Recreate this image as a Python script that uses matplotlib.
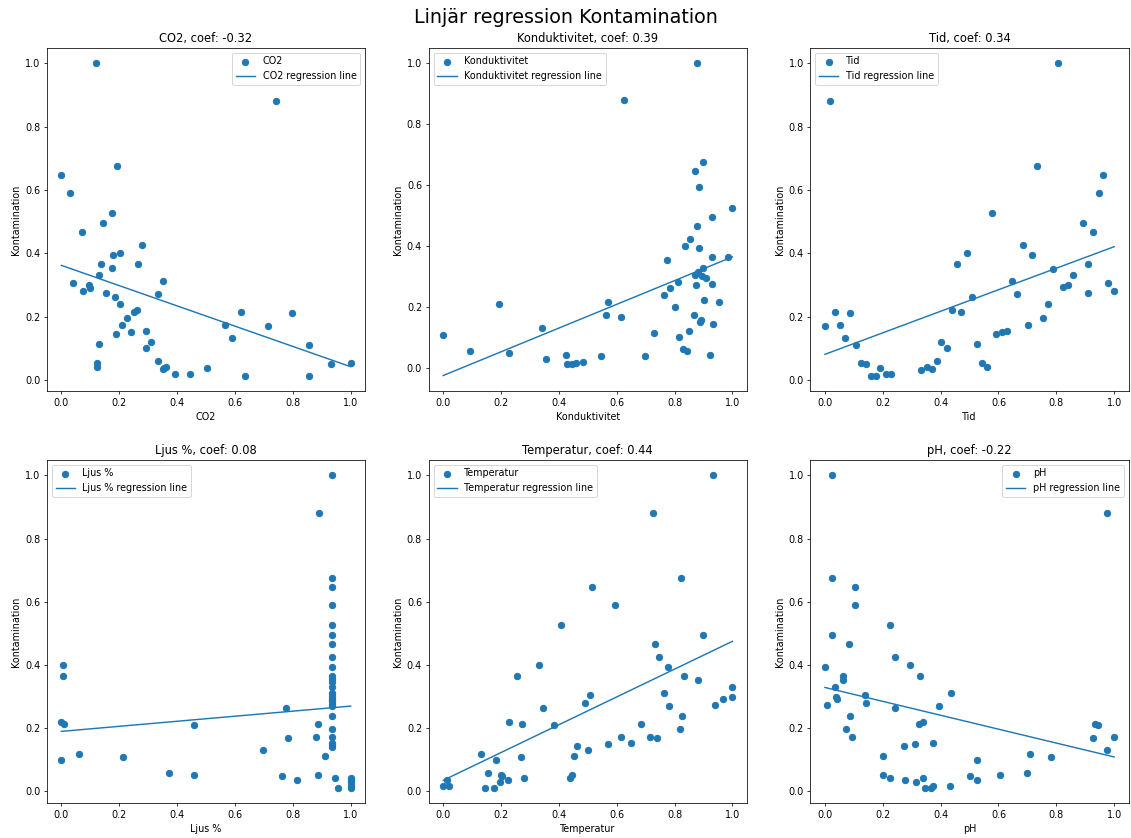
import numpy as np
import matplotlib
matplotlib.use("Agg")
import matplotlib.pyplot as plt

# feature names (x axis of each panel)
features = ["CO2", "Konduktivitet", "Tid", "Ljus %", "Temperatur", "pH"]

# regression line: intercept and coef
intercepts = [0.362, -0.026, 0.081, 0.190, 0.035, 0.329]
coefs = [-0.32, 0.39, 0.34, 0.08, 0.44, -0.22]

co2_x = [0.118, 0.741, 0.0, 0.031, 0.193, 0.072, 0.174, 0.144, 0.280, 0.178, 0.202, 0.137, 0.266,
         0.176, 0.131, 0.040, 0.075, 0.097, 0.100, 0.153, 0.351, 0.333, 0.186, 0.202, 0.252, 0.261,
         0.225, 0.210, 0.239, 0.189, 0.294, 0.293, 0.311, 0.131, 0.124, 0.124, 0.333, 0.351, 0.356,
         0.361, 0.392, 0.443, 0.503, 0.566, 0.590, 0.621, 0.636, 0.713, 0.798, 0.856, 0.856, 0.932, 1.0]
co2_y = [1.0, 0.880, 0.647, 0.592, 0.677, 0.468, 0.527, 0.496, 0.426, 0.394, 0.401, 0.366, 0.366,
         0.353, 0.331, 0.306, 0.282, 0.299, 0.292, 0.275, 0.313, 0.271, 0.263, 0.239, 0.215, 0.220,
         0.197, 0.173, 0.152, 0.144, 0.155, 0.102, 0.120, 0.113, 0.053, 0.042, 0.060, 0.034, 0.039,
         0.042, 0.018, 0.018, 0.038, 0.173, 0.134, 0.215, 0.014, 0.169, 0.211, 0.109, 0.014, 0.050, 0.053]

kond_x = [0.877, 0.624, 0.897, 0.870, 0.885, 1.0, 0.930, 0.877, 0.855, 0.836, 0.886, 0.928, 0.984,
          0.775, 0.899, 0.870, 0.880, 0.895, 0.908, 0.813, 0.874, 0.930, 0.785, 0.763, 0.570, 0.193,
          0.901, 0.952, 0.802, 0.563, 0.616, 0.867, 0.892, 0.888, 0.934, 0.340, 0.728, 0.851, 0.814,
          0.0, 0.092, 0.229, 0.357, 0.425, 0.428, 0.445, 0.459, 0.485, 0.544, 0.699, 0.828, 0.844, 0.921]
kond_y = [1.0, 0.879, 0.676, 0.646, 0.593, 0.526, 0.496, 0.467, 0.424, 0.401, 0.394, 0.364, 0.364,
          0.353, 0.329, 0.306, 0.313, 0.301, 0.293, 0.282, 0.270, 0.276, 0.263, 0.240, 0.217, 0.210,
          0.222, 0.217, 0.199, 0.173, 0.168, 0.173, 0.156, 0.150, 0.144, 0.131, 0.113, 0.121, 0.101,
          0.108, 0.056, 0.048, 0.030, 0.041, 0.012, 0.011, 0.016, 0.018, 0.037, 0.037, 0.060, 0.056, 0.042]

tid_x = [0.806, 0.017, 0.734, 0.963, 0.946, 0.578, 0.893, 0.928, 0.684, 0.717, 0.491, 0.455, 0.911,
         0.787, 0.857, 0.647, 0.979, 0.840, 0.822, 1.0, 0.908, 0.665, 0.509, 0.771, 0.438, 0.472,
         0.036, 0.087, 0.053, 0.0, 0.701, 0.754, 0.593, 0.612, 0.630, 0.071, 0.402, 0.422, 0.525,
         0.107, 0.123, 0.141, 0.543, 0.561, 0.386, 0.192, 0.160, 0.176, 0.210, 0.230, 0.332, 0.352, 0.369]
tid_y = [1.0, 0.880, 0.677, 0.647, 0.592, 0.527, 0.496, 0.467, 0.426, 0.394, 0.401, 0.366, 0.366,
         0.352, 0.330, 0.313, 0.306, 0.299, 0.293, 0.282, 0.275, 0.271, 0.263, 0.239, 0.221, 0.215,
         0.215, 0.211, 0.173, 0.169, 0.173, 0.197, 0.144, 0.151, 0.155, 0.134, 0.120, 0.102, 0.113,
         0.109, 0.053, 0.050, 0.053, 0.042, 0.060, 0.038, 0.014, 0.014, 0.018, 0.018, 0.032, 0.042, 0.036]

ljus_x = [0.937, 0.892] + [0.937] * 24 + [0.007, 0.007, 0.0, 0.008, 0.0, 0.060, 0.213, 0.372, 0.457,
          0.459, 0.697, 0.778, 0.783, 0.761, 0.816, 0.879, 0.886, 0.886, 0.910, 0.945, 0.955,
          1.0, 1.0, 1.0, 1.0, 1.0]
ljus_y = [1.0, 0.881, 0.676, 0.647, 0.591, 0.527, 0.496, 0.467, 0.425, 0.393, 0.366, 0.356, 0.346,
          0.329, 0.311, 0.303, 0.294, 0.285, 0.278, 0.270, 0.239, 0.196, 0.171, 0.154, 0.148, 0.141,
          0.400, 0.365, 0.221, 0.214, 0.100, 0.118, 0.108, 0.059, 0.053, 0.209, 0.132, 0.263, 0.168,
          0.048, 0.035, 0.172, 0.214, 0.053, 0.112, 0.041, 0.012, 0.042, 0.035, 0.026, 0.016, 0.012]

temp_x = [0.934, 0.725, 0.821, 0.515, 0.594, 0.406, 0.897, 0.734, 0.746, 0.776, 0.333, 0.254, 0.831,
          0.882, 1.0, 0.764, 0.506, 1.0, 0.967, 0.940, 0.491, 0.780, 0.345, 0.826, 0.226, 0.274,
          0.382, 0.684, 0.818, 0.616, 0.715, 0.740, 0.651, 0.570, 0.462, 0.502, 0.132, 0.452, 0.270,
          0.184, 0.154, 0.200, 0.203, 0.197, 0.225, 0.280, 0.437, 0.446, 0.145, 0.175, 0.0, 0.020, 0.014]
temp_y = [1.0, 0.881, 0.676, 0.647, 0.591, 0.527, 0.496, 0.467, 0.425, 0.393, 0.400, 0.365, 0.365,
          0.353, 0.329, 0.311, 0.305, 0.298, 0.291, 0.273, 0.281, 0.269, 0.263, 0.239, 0.221, 0.214,
          0.209, 0.214, 0.196, 0.172, 0.172, 0.168, 0.154, 0.150, 0.144, 0.132, 0.118, 0.112, 0.108,
          0.100, 0.059, 0.053, 0.048, 0.030, 0.035, 0.041, 0.041, 0.053, 0.012, 0.012, 0.016, 0.016, 0.037]

ph_x = [0.026, 0.975, 0.023, 0.103, 0.105, 0.023, 0.225, 0.084, 0.241, 0.0, 0.293, 0.062, 0.062,
        0.329, 0.034, 0.007, 0.039, 0.042, 0.137, 0.142, 0.435, 0.243, 0.395, 0.088, 0.074, 0.094,
        0.324, 0.339, 0.275, 0.313, 0.373, 0.200, 0.200, 0.225, 0.278, 0.315, 0.339, 0.346, 0.367,
        0.375, 0.431, 0.502, 0.526, 0.527, 0.606, 0.700, 0.710, 0.782, 0.927, 0.935, 0.943, 0.977, 1.0]
ph_y = [1.0, 0.881, 0.676, 0.647, 0.591, 0.496, 0.527, 0.467, 0.425, 0.393, 0.400, 0.365, 0.353,
        0.365, 0.329, 0.273, 0.298, 0.291, 0.305, 0.281, 0.311, 0.263, 0.269, 0.239, 0.196, 0.172,
        0.214, 0.221, 0.144, 0.150, 0.154, 0.112, 0.053, 0.041, 0.037, 0.031, 0.041, 0.012, 0.012,
        0.016, 0.016, 0.048, 0.100, 0.035, 0.053, 0.059, 0.118, 0.108, 0.168, 0.214, 0.209, 0.132, 0.172]

xs = [co2_x, kond_x, tid_x, ljus_x, temp_x, ph_x]
ys = [co2_y, kond_y, tid_y, ljus_y, temp_y, ph_y]
legend_locs = ["upper right", "upper left", "upper left", "upper left", "upper left", "upper right"]

# big figure drawn at low dpi, so default font sizes come out like the reference
fig, axes = plt.subplots(2, 3, figsize=(1132 / 69, 838 / 69), dpi=69)
fig.subplots_adjust(left=0.0415, right=0.997, top=0.943, bottom=0.0415, wspace=0.2, hspace=0.2)
fig.suptitle("Linjär regression Kontamination", fontsize=20, y=0.99)

for i, ax in enumerate(axes.flat):
    x = np.array(xs[i])
    y = np.array(ys[i])
    name = features[i]
    ax.scatter(x, y, color="tab:blue", s=44, label=name)
    xl = np.sort(x)
    ax.plot(xl, intercepts[i] + coefs[i] * xl, color="tab:blue", label=name + " regression line")
    ax.set_title(name + ", coef: " + format(coefs[i], ".2f"))
    ax.set_xlabel(name)
    ax.set_ylabel("Kontamination")
    ax.legend(loc=legend_locs[i])

plt.savefig("out.png", dpi=69)
